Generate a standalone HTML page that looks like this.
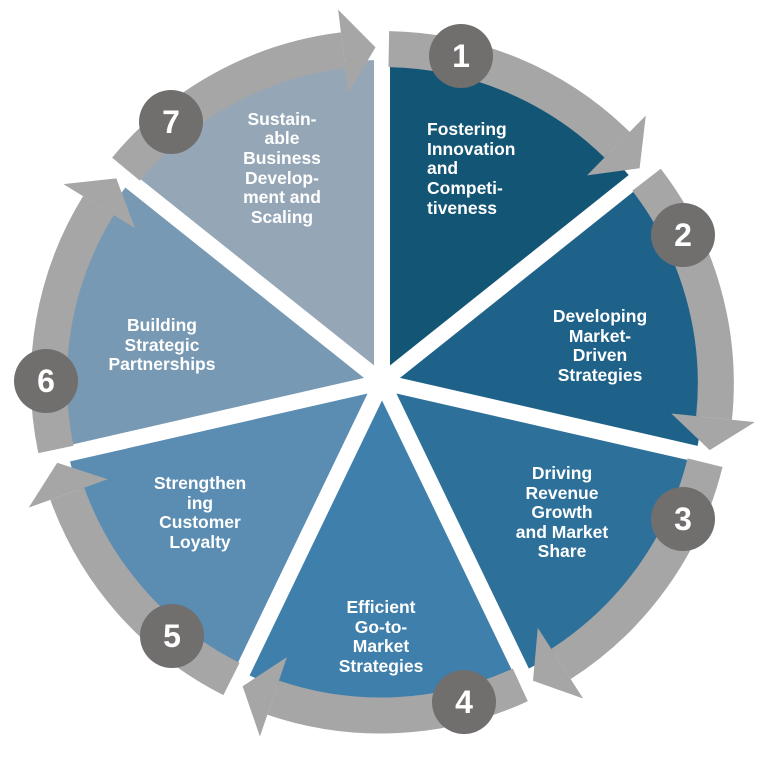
<!DOCTYPE html>
<html><head><meta charset="utf-8"><style>
html,body{margin:0;padding:0;background:#fff;}
svg{display:block;}
text{font-family:"Liberation Sans",Arial,sans-serif;font-weight:bold;fill:#fff;}
</style></head><body>
<svg width="768" height="768" viewBox="0 0 768 768" xmlns="http://www.w3.org/2000/svg">
<defs>
<g id="ring">
<path d="M388.8,49.1 A334,334 0 0 1 617.1,144.8" fill="none" stroke="#a6a6a6" stroke-width="36"/>
<polygon points="587,175.4 645.8,115.5 639.6,168.3" fill="#a6a6a6"/>
</g>
<path id="wedge" d="M382,382 L382,60 A322,322 0 0 1 633.7,181.2 Z"/>
</defs>
<!-- wedges -->
<use href="#wedge" fill="#135574"/>
<use href="#wedge" fill="#1f6289" transform="rotate(51.43 382 382)"/>
<use href="#wedge" fill="#2d7099" transform="rotate(102.86 382 382)"/>
<use href="#wedge" fill="#3f7fab" transform="rotate(154.29 382 382)"/>
<use href="#wedge" fill="#5b8cb2" transform="rotate(205.71 382 382)"/>
<use href="#wedge" fill="#7899b3" transform="rotate(257.14 382 382)"/>
<use href="#wedge" fill="#95a6b7" transform="rotate(308.57 382 382)"/>
<!-- gaps -->
<g stroke="#fff" stroke-width="16">
<line x1="382" y1="382" x2="382" y2="40"/>
<line x1="382" y1="382" x2="382" y2="40" transform="rotate(51.43 382 382)"/>
<line x1="382" y1="382" x2="382" y2="40" transform="rotate(102.86 382 382)"/>
<line x1="382" y1="382" x2="382" y2="40" transform="rotate(154.29 382 382)"/>
<line x1="382" y1="382" x2="382" y2="40" transform="rotate(205.71 382 382)"/>
<line x1="382" y1="382" x2="382" y2="40" transform="rotate(257.14 382 382)"/>
<line x1="382" y1="382" x2="382" y2="40" transform="rotate(308.57 382 382)"/>
</g>
<!-- ring -->
<use href="#ring"/>
<use href="#ring" transform="rotate(51.43 382 382)"/>
<use href="#ring" transform="rotate(102.86 382 382)"/>
<use href="#ring" transform="rotate(154.29 382 382)"/>
<use href="#ring" transform="rotate(205.71 382 382)"/>
<use href="#ring" transform="rotate(257.14 382 382)"/>
<use href="#ring" transform="rotate(308.57 382 382)"/>
<!-- number circles -->
<g fill="#716e6e">
<circle cx="461" cy="56" r="32"/>
<circle cx="683" cy="235" r="32"/>
<circle cx="683" cy="519" r="32"/>
<circle cx="464" cy="702" r="32"/>
<circle cx="172" cy="636" r="32"/>
<circle cx="46" cy="381" r="32"/>
<circle cx="171" cy="122" r="32"/>
</g>
<g font-size="32" text-anchor="middle">
<text x="461" y="67">1</text>
<text x="683" y="246">2</text>
<text x="683" y="530">3</text>
<text x="464" y="713">4</text>
<text x="172" y="647">5</text>
<text x="46" y="392">6</text>
<text x="171" y="133">7</text>
</g>
<!-- labels -->
<g font-size="17.5">
<text x="427" y="135">Fostering</text>
<text x="427" y="155">Innovation</text>
<text x="427" y="174">and</text>
<text x="427" y="194">Competi-</text>
<text x="427" y="214">tiveness</text>
</g>
<g font-size="17.5" text-anchor="middle">
<text x="600" y="322">Developing</text>
<text x="600" y="342">Market-</text>
<text x="600" y="361">Driven</text>
<text x="600" y="381">Strategies</text>
<text x="562" y="479">Driving</text>
<text x="562" y="499">Revenue</text>
<text x="562" y="518">Growth</text>
<text x="562" y="538">and Market</text>
<text x="562" y="557">Share</text>
<text x="381" y="613">Efficient</text>
<text x="381" y="633">Go-to-</text>
<text x="381" y="652">Market</text>
<text x="381" y="672">Strategies</text>
<text x="200" y="489">Strengthen</text>
<text x="200" y="509">ing</text>
<text x="200" y="528">Customer</text>
<text x="200" y="548">Loyalty</text>
<text x="162" y="331">Building</text>
<text x="162" y="351">Strategic</text>
<text x="162" y="370">Partnerships</text>
<text x="282" y="125">Sustain-</text>
<text x="282" y="144">able</text>
<text x="282" y="164">Business</text>
<text x="282" y="184">Develop-</text>
<text x="282" y="203">ment and</text>
<text x="282" y="223">Scaling</text>
</g>
</svg>
</body></html>
